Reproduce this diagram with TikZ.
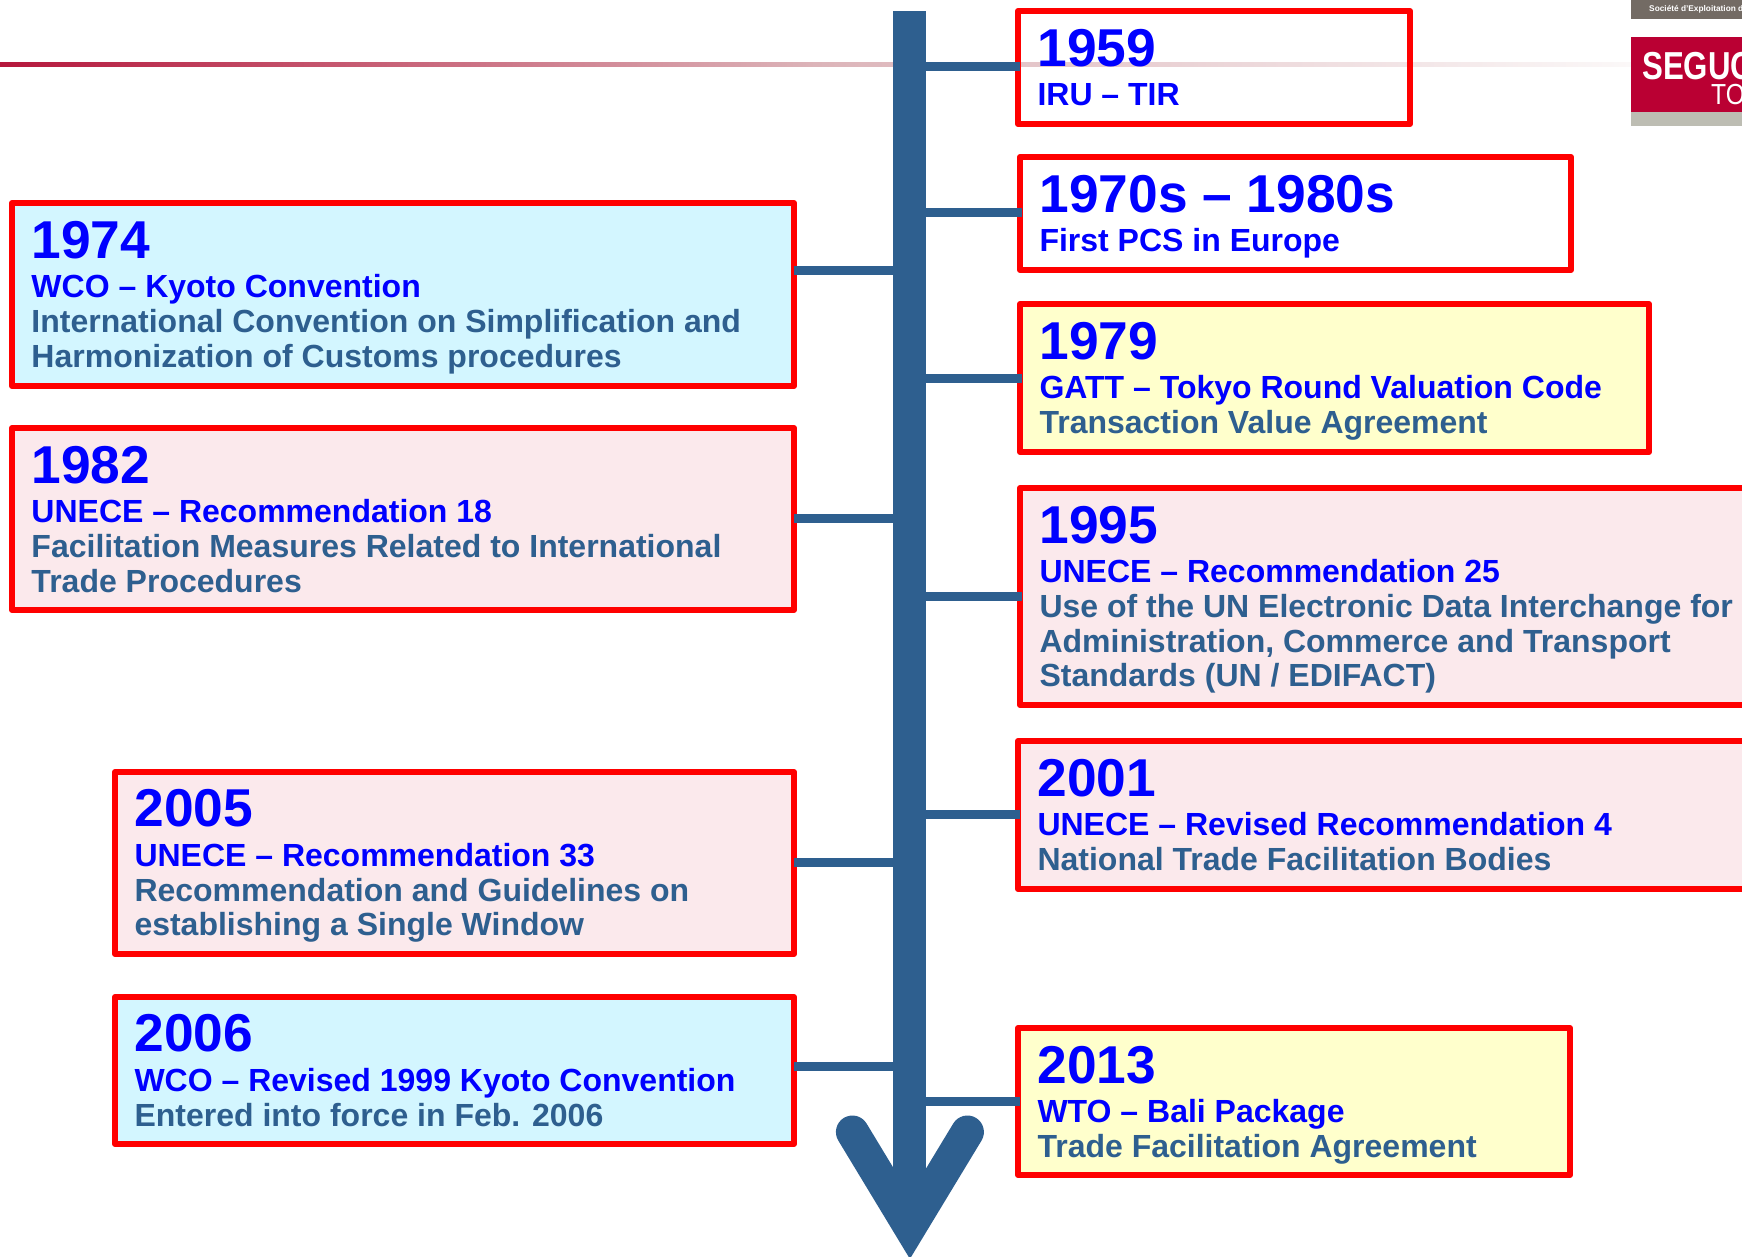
\documentclass[tikz,border=0pt]{standalone}
\usepackage{fontspec}
\setmainfont{Liberation Sans}[BoldFont={Liberation Sans Bold}]
\newfontfamily\logowide{Liberation Sans Bold}[FakeStretch=0.8]
\newfontfamily\logothin{Liberation Sans}[FakeStretch=0.85]
\definecolor{steel}{HTML}{2E5F8F}
\definecolor{pure}{HTML}{0000FF}
\definecolor{frame}{HTML}{FF0000}
\definecolor{cyanfill}{HTML}{D3F6FF}
\definecolor{pinkfill}{HTML}{FBE9EC}
\definecolor{yellowfill}{HTML}{FFFFCC}
\definecolor{logored}{HTML}{BA0033}
\definecolor{logobrown}{HTML}{736B64}
\definecolor{logogrey}{HTML}{BDBDB3}
\definecolor{fadea}{HTML}{B5173C}
\definecolor{fadeb}{HTML}{DCB4B9}
\definecolor{fadec}{HTML}{FBF8F8}
\tikzset{
  tlbox/.style={draw=frame,line width=6pt,line join=round,inner sep=0pt,outer sep=0pt,anchor=north west},
  stub/.style={draw=steel,line width=9pt},
  trunkline/.style={draw=steel,line width=33pt},
  headline/.style={draw=steel,line width=33pt,line cap=round,line join=miter,miter limit=10},
  logotext/.style={text=white,inner sep=0pt}
}
\newcommand{\yearrise}{55pt}
\newcommand{\tlnode}[9]{%
  \node[tlbox,#6] (#1) at (#2,#3) {\parbox[c][\dimexpr#5pt-#3pt\relax][t]{\dimexpr#4pt-#2pt\relax}{%
    \raggedright\leftskip=19.5pt\bfseries
    {\fontsize{53.3}{55}\selectfont\color{pure}\rule{0pt}{\yearrise}#7\par}%
    {\fontsize{32}{39.8}\selectfont\color{pure}#8\par}%
    \vspace{0.5pt}%
    {\fontsize{32}{34.5}\selectfont\color{steel}#9\par}}};}
\begin{document}
\begin{tikzpicture}[x=1pt,y=-1pt]
\clip (0,0) rectangle (1742,1256);
\fill[white] (0,0) rectangle (1742,1256);
% header rule
\shade[left color=fadea,right color=fadec,middle color=fadeb] (0,62) rectangle (1631,66);
% logo
\fill[logobrown] (1631,0) rectangle (1742,19);
\fill[logored] (1631,37) rectangle (1742,112);
\fill[logogrey] (1631,112) rectangle (1742,126);
\node[logotext,anchor=base west,font=\bfseries\fontsize{8.3}{8.3}\selectfont] (logoa) at (1649,11) {Société d'Exploitation du Terminal};
\node[logotext,anchor=base west,font=\logowide\fontsize{39}{39}\selectfont] (logob) at (1642,79) {SEGUC};
\node[logotext,anchor=base west,font=\logothin\fontsize{29}{29}\selectfont] (logoc) at (1711,104) {TO};
% trunk
\coordinate (trunktop) at (909.9,11);
\coordinate (trunkend) at (909.9,1210);
\draw[trunkline] (trunktop) -- (trunkend);
\coordinate (hl) at (852.4,1132);
\coordinate (ht) at (909.9,1227);
\coordinate (hr) at (967.4,1132);
\draw[headline] (hl) -- (ht) -- (hr);
% right boxes
\tlnode{b1959}{1018}{11}{1410}{124}{}{1959}{IRU – TIR}{}
\tlnode{b1970}{1020}{157}{1571}{270}{}{1970s – 1980s}{First PCS in Europe}{}
\tlnode{b1979}{1020}{304}{1649}{452}{fill=yellowfill}{1979}{GATT – Tokyo Round Valuation Code}{Transaction Value Agreement}
\tlnode{b1995}{1020}{488}{1780}{705}{fill=pinkfill}{1995}{UNECE – Recommendation 25}{Use of the UN Electronic Data Interchange for\\Administration, Commerce and Transport\\Standards (UN / EDIFACT)}
\tlnode{b2001}{1018}{741}{1780}{889}{fill=pinkfill}{2001}{UNECE – Revised Recommendation 4}{National Trade Facilitation Bodies}
\tlnode{b2013}{1018}{1028}{1570}{1175}{fill=yellowfill}{2013}{WTO – Bali Package}{Trade Facilitation Agreement}
% left boxes
\tlnode{b1974}{12}{203}{794}{386}{fill=cyanfill}{1974}{WCO – Kyoto Convention}{International Convention on Simplification and\\Harmonization of Customs procedures}
\tlnode{b1982}{12}{428}{794}{610}{fill=pinkfill}{1982}{UNECE – Recommendation 18}{Facilitation Measures Related to International\\Trade Procedures}
\renewcommand{\yearrise}{54.3pt}
\tlnode{b2005}{115}{772}{794}{954}{fill=pinkfill}{2005}{UNECE – Recommendation 33}{Recommendation and Guidelines on\\establishing a Single Window}
\tlnode{b2006}{115}{997}{794}{1144}{fill=cyanfill}{2006}{WCO – Revised 1999 Kyoto Convention}{Entered into force in Feb. 2006}
% connectors
\foreach \nm/\yy in {b1959/66,b1970/212,b1979/378,b1995/596.5,b2001/814,b2013/1101}{
  \coordinate (j\nm) at (926,\yy);
  \draw[stub,shorten >=-2pt] (j\nm) -- (\nm.west |- j\nm);
}
\foreach \nm/\yy in {b1974/270,b1982/518,b2005/862,b2006/1066}{
  \coordinate (j\nm) at (894,\yy);
  \draw[stub] (j\nm) -- (\nm.east |- j\nm);
}
\end{tikzpicture}
\end{document}
